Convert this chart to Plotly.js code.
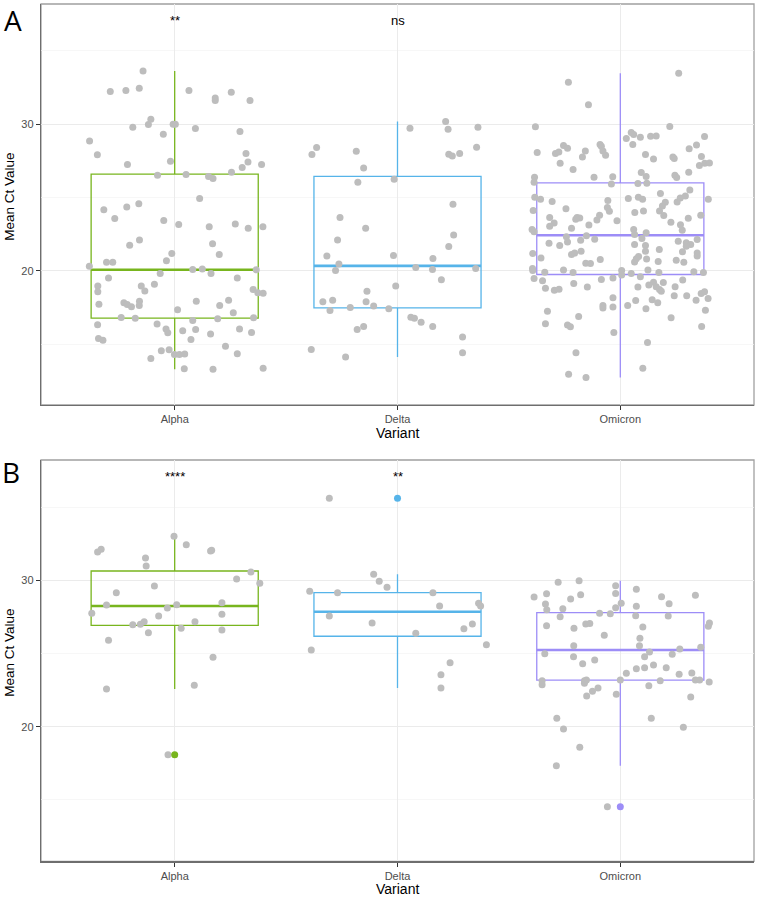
<!DOCTYPE html>
<html>
<head>
<meta charset="utf-8">
<script src="https://cdn.plot.ly/plotly-3.0.1.min.js"></script>
<style>
  html, body { margin: 0; padding: 0; background: #fff; }
  #plot { width: 760px; height: 899px; }
</style>
</head>
<body>
<div id="plot"></div>
<script>
// --- categories ---
const variants = ['Alpha', 'Delta', 'Omicron'];
const variantColors = ['#78B51E', '#56B4E9', '#9D8DF7'];

// --- panel A: Mean Ct per sample (jitter = horizontal offset) ---
const alphaA_ct = [
  33.63, 32.23, 32.30, 32.45, 32.30, 31.79, 31.62, 32.18, 31.62, 30.34,
  29.98, 29.80, 30.00, 30.00, 29.71, 29.32, 29.50, 28.86, 27.91, 28.00,
  27.48, 27.43, 27.25, 27.25, 27.05, 26.73, 26.52, 26.57, 26.43, 26.30,
  24.93, 24.16, 24.36, 24.57, 23.57, 23.43, 23.16, 23.00, 23.20, 22.91,
  23.00, 21.75, 22.11, 21.19, 20.68, 21.84, 21.12, 20.59, 20.59, 20.32,
  20.10, 20.12, 19.82, 20.07, 19.82, 19.52, 19.52, 18.96, 18.57, 18.96,
  18.62, 19.09, 18.73, 18.50, 18.48, 17.73, 17.82, 17.71, 17.55, 17.93,
  17.64, 17.93, 17.64, 18.00, 17.34, 17.14, 16.82, 16.76, 16.62, 16.73,
  16.80, 16.32, 16.37, 16.03, 15.77, 15.91, 16.00, 15.70, 16.03, 15.80,
  15.39, 15.26, 15.32, 14.85, 14.55, 14.61, 14.03, 14.30, 14.30, 14.32,
  14.34, 13.32, 13.28, 13.35
];
const alphaA_jit = [
  -0.142, -0.289, -0.219, -0.159, 0.064, 0.182, 0.182, 0.254, 0.338, -0.107,
  -0.118, -0.188, -0.007, 0.003, 0.093, -0.051, 0.293, -0.382, -0.347, 0.320,
  -0.019, 0.329, -0.212, 0.390, 0.303, 0.255, -0.077, 0.051, 0.152, 0.172,
  0.112, -0.318, -0.215, -0.161, -0.269, -0.049, 0.018, 0.155, 0.272, 0.330,
  0.396, -0.202, -0.158, -0.013, -0.037, 0.170, 0.200, -0.306, -0.278, -0.383,
  0.081, 0.124, 0.163, 0.366, -0.065, -0.297, 0.281, -0.345, -0.345, -0.150,
  -0.134, -0.091, 0.352, 0.373, 0.397, -0.340, -0.228, -0.213, -0.194, -0.158,
  -0.159, 0.097, 0.202, 0.242, 0.013, 0.263, -0.240, -0.177, 0.081, 0.193,
  0.354, -0.346, -0.079, -0.039, -0.031, 0.036, 0.094, 0.161, 0.291, 0.345,
  -0.342, -0.322, 0.073, 0.228, -0.060, -0.025, -0.107, -0.001, 0.021, 0.045,
  0.281, 0.043, 0.172, 0.397
];
const deltaA_ct = [
  27.93, 28.41, 28.16, 27.02, 26.05, 23.64, 22.91, 26.25, 29.73, 30.18,
  29.66, 29.80, 27.96, 27.84, 28.00, 28.43, 24.55, 22.11, 21.02, 20.46,
  20.03, 18.60, 17.89, 18.00, 17.89, 17.50, 17.30, 17.61, 16.00, 16.21,
  14.64, 14.12, 22.45, 21.66, 21.05, 20.84, 20.23, 20.10, 20.16, 18.96,
  19.39, 17.41, 16.84, 16.76, 16.50, 16.21, 15.48, 14.41
];
const deltaA_jit = [
  -0.384, -0.363, -0.185, -0.152, -0.178, -0.258, -0.143, -0.015, 0.056, 0.216,
  0.227, 0.361, 0.230, 0.246, 0.279, 0.355, 0.249, -0.269, -0.317, -0.263,
  -0.278, -0.137, -0.335, -0.291, -0.141, -0.212, -0.303, -0.107, -0.181, -0.152,
  -0.387, -0.233, 0.252, 0.230, -0.018, 0.159, 0.082, 0.157, 0.351, -0.008,
  0.197, -0.039, 0.060, 0.076, 0.106, 0.158, 0.292, 0.292
];
const omicronA_ct = [
  33.48, 32.86, 31.32, 29.82, 29.84, 29.43, 29.30, 29.03, 29.11, 29.18,
  29.20, 29.16, 28.62, 28.59, 28.32, 28.55, 28.36, 28.62, 28.50, 28.00,
  28.11, 28.07, 28.18, 28.18, 27.89, 27.77, 27.93, 27.63, 27.77, 27.66,
  27.80, 27.34, 26.91, 27.18, 27.34, 27.36, 26.73, 26.71, 26.43, 26.52,
  26.37, 26.39, 26.05, 26.39, 26.41, 25.93, 25.96, 25.98, 25.02, 24.89,
  24.73, 24.23, 23.64, 23.61, 23.52, 23.12, 23.80, 23.46, 24.80, 24.32,
  24.07, 23.41, 24.94, 25.02, 24.89, 23.98, 24.09, 25.28, 24.68, 24.43,
  24.09, 23.78, 24.70, 24.96, 25.11, 25.52, 24.89, 23.32, 23.14, 23.59,
  23.80, 23.64, 23.27, 24.12, 22.91, 22.82, 22.82, 22.66, 23.05, 22.48,
  22.77, 21.89, 21.73, 22.32, 21.96, 22.09, 22.39, 22.16, 21.12, 21.21,
  21.34, 21.19, 20.87, 20.52, 20.50, 20.78, 21.80, 22.21, 22.59, 21.73,
  21.34, 21.46, 20.61, 20.82, 20.98, 20.80, 20.64, 22.02, 21.91, 21.80,
  21.68, 22.14, 21.30, 21.21, 21.02, 20.73, 20.59, 20.03, 20.16, 19.91,
  20.05, 19.89, 20.03, 19.71, 19.82, 20.05, 19.89, 19.93, 19.89, 19.52,
  19.41, 19.48, 19.32, 19.14, 18.89, 18.82, 18.68, 18.75, 18.89, 19.59,
  19.03, 19.23, 18.91, 18.73, 18.60, 19.21, 18.91, 19.37, 18.30, 18.30,
  18.00, 18.46, 18.57, 18.12, 18.16, 17.53, 17.64, 17.98, 18.02, 17.82,
  17.41, 17.64, 17.46, 17.25, 16.39, 16.30, 16.18, 16.89, 16.80, 17.32,
  16.21, 15.80, 15.12, 14.41, 13.35, 12.94, 12.73
];
const omicronA_jit = [
  0.262, -0.233, -0.143, -0.381, 0.222, 0.049, 0.060, 0.027, 0.090, 0.136,
  0.161, 0.378, 0.056, 0.342, 0.309, -0.255, -0.237, -0.091, -0.085, -0.291,
  -0.276, -0.373, -0.157, -0.078, -0.066, -0.170, 0.113, 0.149, 0.236, 0.242,
  0.364, -0.270, -0.212, 0.355, 0.379, 0.400, 0.307, 0.094, 0.116, 0.245,
  0.253, -0.385, -0.387, -0.118, -0.034, -0.040, 0.079, 0.119, -0.384, -0.358,
  -0.306, -0.244, -0.194, -0.182, -0.200, -0.141, -0.093, -0.105, -0.056, -0.058,
  -0.049, -0.015, 0.036, 0.081, 0.100, 0.065, 0.104, 0.180, 0.202, 0.189,
  0.176, 0.195, 0.255, 0.269, 0.292, 0.312, 0.395, 0.227, 0.270, 0.305,
  0.361, -0.317, -0.297, -0.391, -0.219, 0.060, -0.396, -0.387, -0.317, 0.064,
  0.278, -0.320, -0.272, -0.242, -0.237, -0.178, -0.152, -0.115, -0.219, -0.205,
  -0.176, -0.393, -0.356, -0.155, -0.134, -0.090, 0.064, 0.097, 0.116, 0.113,
  0.113, 0.175, 0.064, 0.072, 0.082, 0.118, 0.170, 0.260, 0.296, 0.316,
  0.296, 0.345, 0.279, 0.345, 0.345, 0.251, 0.285, -0.393, -0.394, -0.339,
  -0.255, -0.212, 0.006, 0.006, 0.049, 0.124, 0.173, 0.330, 0.373, -0.033,
  -0.085, -0.387, -0.349, -0.209, -0.148, -0.336, -0.296, -0.275, 0.079, 0.090,
  0.128, 0.149, 0.161, 0.176, 0.184, 0.193, 0.246, 0.280, 0.242, 0.298,
  0.340, 0.363, 0.378, 0.394, -0.033, -0.033, 0.033, 0.069, 0.143, 0.168,
  0.115, -0.078, -0.078, -0.327, -0.336, -0.237, -0.224, -0.187, 0.228, 0.382,
  0.365, -0.029, 0.122, -0.199, 0.101, -0.232, -0.154
];

// --- panel B ---
const alphaB_ct = [
  31.93, 32.12, 33.01, 32.43, 32.00, 32.05, 31.52, 30.98, 29.61, 29.16,
  30.09, 30.57, 29.80, 28.32, 27.75, 28.11, 28.34, 27.56, 28.47, 27.68,
  26.97, 27.00, 27.17, 27.17, 26.72, 26.42, 26.61, 25.90, 24.74, 22.58,
  22.83, 18.09
];
const alphaB_jit = [
  -0.346, -0.330, -0.003, 0.052, 0.161, 0.166, -0.131, -0.128, -0.091, -0.262,
  0.278, 0.342, 0.382, -0.306, -0.372, -0.033, 0.009, -0.072, 0.212, 0.212,
  -0.188, -0.154, -0.137, 0.091, 0.029, -0.118, 0.212, -0.297, 0.172, -0.306,
  0.088, -0.030
];
const deltaB_ct = [
  35.60, 29.25, 29.16, 27.56, 27.09, 25.24, 30.41, 29.93, 29.52, 29.16,
  28.25, 28.43, 28.25, 26.38, 26.70, 27.02, 25.60, 24.37, 23.55, 22.65
];
const deltaB_jit = [
  -0.306, -0.394, -0.269, -0.306, -0.114, -0.387, -0.107, -0.082, -0.047, 0.159,
  0.189, 0.364, 0.373, 0.082, 0.298, 0.336, 0.399, 0.236, 0.195, 0.195
];
const omicronB_ct = [
  29.87, 29.97, 29.63, 29.11, 29.39, 28.86, 29.09, 28.73, 29.02, 28.38,
  27.99, 28.06, 27.52, 27.75, 27.72, 28.13, 28.43, 28.23, 27.58, 28.88,
  28.40, 27.56, 28.98, 26.90, 26.72, 27.02, 27.06, 26.25, 26.81, 26.04,
  25.53, 25.53, 26.86, 27.09, 25.43, 25.31, 24.95, 25.11, 24.78, 24.99,
  24.78, 24.31, 24.56, 23.96, 24.03, 24.22, 24.03, 23.65, 23.58, 23.67,
  23.14, 22.87, 23.14, 23.19, 22.97, 23.19, 22.80, 23.14, 23.19, 23.19,
  23.06, 22.10, 22.42, 22.65, 22.22, 22.03, 20.58, 19.85, 20.58, 19.96,
  18.60, 17.34, 14.54
];
const omicronB_jit = [
  -0.279, -0.185, -0.021, -0.021, 0.072, -0.387, -0.331, -0.223, -0.178, -0.336,
  -0.330, -0.258, -0.270, -0.093, -0.045, -0.021, 0.004, 0.072, 0.069, 0.185,
  0.219, 0.215, 0.337, -0.331, -0.208, -0.155, -0.137, -0.072, 0.101, 0.088,
  0.086, -0.209, 0.395, 0.400, 0.361, 0.267, 0.233, 0.131, 0.109, -0.339,
  -0.210, -0.169, -0.115, 0.072, 0.109, 0.149, 0.206, 0.027, 0.264, 0.321,
  -0.351, -0.351, -0.161, -0.152, -0.161, 0.000, 0.128, 0.179, 0.337, 0.356,
  0.399, -0.151, -0.125, -0.100, -0.018, 0.316, -0.285, -0.255, 0.139, 0.283,
  -0.182, -0.287, -0.058
];

// --- box statistics ---
const boxA_q1  = [16.78, 17.48, 19.75];
const boxA_med = [20.07, 20.34, 22.43];
const boxA_q3  = [26.59, 26.45, 26.00];
const boxA_lo  = [13.28, 14.12, 12.73];
const boxA_hi  = [33.63, 30.18, 33.48];

const boxB_q1  = [26.93, 26.18, 23.19];
const boxB_med = [28.25, 27.86, 25.24];
const boxB_q3  = [30.64, 29.16, 27.79];
const boxB_lo  = [22.58, 22.65, 17.34];
const boxB_hi  = [33.01, 30.41, 29.97];

const outlierB = [18.09, 35.60, 14.54];

// --- significance labels ---
const sigA = ['**', 'ns', ''];
const sigB = ['****', '**', ''];

const FONT = '"Liberation Sans", Arial, sans-serif';
const LETTER_FONT = '"Open Sans", sans-serif';
const BOX_W = 0.75;

function panelTraces(xa, ya, cts, jits, q1, med, q3, lo, hi, outliers) {
    const traces = [];
    variants.forEach((v, i) => {
        traces.push({
            type: 'box', x: [i], q1: [q1[i]], median: [med[i]], q3: [q3[i]],
            lowerfence: [lo[i]], upperfence: [hi[i]],
            width: BOX_W, whiskerwidth: 0, boxpoints: false,
            line: { color: variantColors[i], width: 1.3 },
            fillcolor: 'rgba(0,0,0,0)',
            xaxis: xa, yaxis: ya, hoverinfo: 'skip', showlegend: false
        });
    });
    // ggplot draws the median twice as thick
    variants.forEach((v, i) => {
        traces.push({
            type: 'scatter', mode: 'lines',
            x: [i - BOX_W / 2, i + BOX_W / 2], y: [med[i], med[i]],
            line: { color: variantColors[i], width: 2.6 },
            xaxis: xa, yaxis: ya, hoverinfo: 'skip', showlegend: false
        });
    });
    variants.forEach((v, i) => {
        traces.push({
            type: 'scatter', mode: 'markers',
            x: jits[i].map(j => i + j), y: cts[i],
            marker: { color: '#BDBDBD', size: 7 },
            xaxis: xa, yaxis: ya, hoverinfo: 'skip', showlegend: false
        });
    });
    if (outliers) {
        traces.push({
            type: 'scatter', mode: 'markers',
            x: [0, 1, 2], y: outliers,
            marker: { color: variantColors, size: 7 },
            xaxis: xa, yaxis: ya, hoverinfo: 'skip', showlegend: false
        });
    }
    return traces;
}

const data = [].concat(
    panelTraces('x', 'y', [alphaA_ct, deltaA_ct, omicronA_ct], [alphaA_jit, deltaA_jit, omicronA_jit],
        boxA_q1, boxA_med, boxA_q3, boxA_lo, boxA_hi, null),
    panelTraces('x2', 'y2', [alphaB_ct, deltaB_ct, omicronB_ct], [alphaB_jit, deltaB_jit, omicronB_jit],
        boxB_q1, boxB_med, boxB_q3, boxB_lo, boxB_hi, outlierB)
);

function xAxis(anchor) {
    return {
        domain: [41 / 760, 754 / 760], anchor: anchor, range: [-0.6, 2.6],
        tickvals: [0, 1, 2], ticktext: variants,
        ticks: 'outside', ticklen: 4, tickwidth: 1, tickcolor: '#333333',
        tickfont: { family: FONT, size: 11, color: '#4d4d4d' },
        showgrid: true, gridcolor: '#ebebeb', gridwidth: 1,
        zeroline: false, showline: true, linecolor: '#6e6e6e', linewidth: 1.2,
        fixedrange: true
    };
}
function yAxis(anchor, domain, range) {
    return {
        domain: domain, anchor: anchor, range: range,
        tick0: 0, dtick: 10,
        ticks: 'outside', ticklen: 4, tickwidth: 1, tickcolor: '#333333',
        tickfont: { family: FONT, size: 11, color: '#4d4d4d' },
        showgrid: true, gridcolor: '#ebebeb', gridwidth: 1,
        minor: { tick0: 0, dtick: 5, showgrid: true, gridcolor: '#f4f4f4', gridwidth: 0.7 },
        zeroline: false, showline: true, linecolor: '#6e6e6e', linewidth: 1.2,
        fixedrange: true
    };
}

const annotations = [];
// panel letters
annotations.push({ xref: 'paper', yref: 'paper', x: 13 / 760, y: 1, text: 'A', showarrow: false,
    xanchor: 'center', yanchor: 'top', borderpad: 0, font: { family: LETTER_FONT, size: 28, color: '#000' } });
annotations.push({ xref: 'paper', yref: 'paper', x: 11 / 760, y: 1 - 472 / 899, text: 'B', showarrow: false,
    xanchor: 'center', yanchor: 'middle', font: { family: LETTER_FONT, size: 28, color: '#000' } });
// axis titles
[[196.7, 432.7], [652.8, 889]].forEach(([yt, xt]) => {
    annotations.push({ xref: 'paper', yref: 'paper', x: 10 / 760, y: 1 - yt / 899, text: 'Mean Ct Value',
        textangle: -90, showarrow: false, xanchor: 'center', yanchor: 'middle',
        font: { family: FONT, size: 13.5, color: '#000' } });
    annotations.push({ xref: 'paper', yref: 'paper', x: 397.5 / 760, y: 1 - xt / 899, text: 'Variant',
        showarrow: false, xanchor: 'center', yanchor: 'middle',
        font: { family: FONT, size: 14, color: '#000' } });
});
// significance
[[sigA, 'x', 'y'], [sigB, 'x2', 'y2']].forEach(([labels, xr, yr]) => {
    labels.forEach((t, i) => {
        if (!t) return;
        annotations.push({ xref: xr, yref: yr, x: i, y: 37.1, text: t, showarrow: false,
            xanchor: 'center', yanchor: 'middle', font: { family: FONT, size: 13, color: '#000' } });
    });
});

const shapes = [['x', 'y'], ['x2', 'y2']].map(([xa, ya]) => ({
    type: 'rect', xref: xa + ' domain', yref: ya + ' domain', x0: 0, x1: 1, y0: 0, y1: 1,
    line: { color: '#a0a0a0', width: 1.3 }, fillcolor: 'rgba(0,0,0,0)', layer: 'below'
}));

const layout = {
    width: 760, height: 899,
    margin: { l: 0, r: 0, t: 0, b: 0 },
    paper_bgcolor: 'white', plot_bgcolor: 'white',
    showlegend: false, boxmode: 'overlay',
    xaxis: xAxis('y'),
    yaxis: yAxis('x', [1 - 405 / 899, 1 - 4 / 899], [10.85, 38.2]),
    xaxis2: xAxis('y2'),
    yaxis2: yAxis('x2', [1 - 861.3 / 899, 1 - 460 / 899], [10.81, 38.22]),
    annotations: annotations,
    shapes: shapes
};

Plotly.newPlot('plot', data, layout, { displayModeBar: false, staticPlot: true });
</script>
</body>
</html>
